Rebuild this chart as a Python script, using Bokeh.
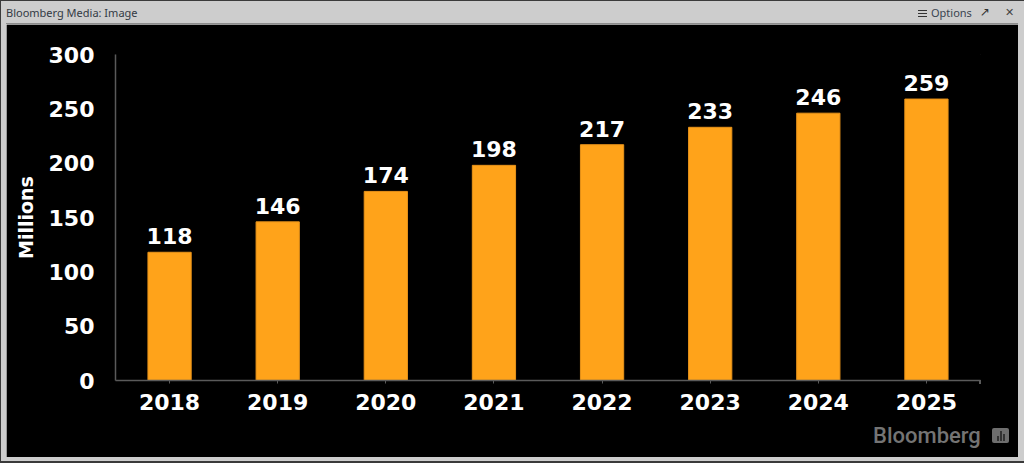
from bokeh.embed import file_html
from bokeh.resources import INLINE
from bokeh.plotting import figure
from bokeh.layouts import column
from bokeh.models import ColumnDataSource, FixedTicker, Range1d, FactorRange, Div
from bokeh.core.properties import value

years = ["2018", "2019", "2020", "2021", "2022", "2023", "2024", "2025"]
users = [118, 146, 174, 198, 217, 233, 246, 259]
y_ticks = [0, 50, 100, 150, 200, 250, 300]
y_title = "Millions"
window_title = "Bloomberg Media: Image"
options_text = "Options"
brand = "Bloomberg"

W, H = 1024, 463
AXIS = "#5a5a5a"
font = "DejaVu Sans"
src = ColumnDataSource(dict(year=years, users=users, label=[str(v) for v in users]))

p = figure(x_range=FactorRange(*years, range_padding=0), y_range=Range1d(0, 300),
           width=1012, height=433, output_backend="svg", toolbar_location=None,
           min_border_left=109, min_border_right=38, min_border_top=30, min_border_bottom=77,
           background_fill_color="#000000", border_fill_color="#000000", outline_line_color="#000000",
           margin=0)
p.outline_line_alpha = 1
p.outline_line_width = 1
p.styles = {"position": "fixed", "left": "6px", "top": "24px"}
p.grid.visible = False

p.vbar(x="year", top="users", width=0.4, source=src, fill_color="#ffa31a", line_color="#e8931a", line_width=1)
p.text(x="year", y="users", text="label", source=src, text_align="center", text_baseline="bottom",
       y_offset=-8, text_color="#ffffff", text_font=value(font), text_font_style="bold",
       text_font_size="22px")

for ax in (p.xaxis[0], p.yaxis[0]):
    ax.axis_line_color = AXIS
    ax.axis_line_width = 1.5
    ax.major_label_text_color = "#ffffff"
    ax.major_label_text_font = font
    ax.major_label_text_font_style = "bold"
    ax.major_label_text_font_size = "22px"
    ax.minor_tick_line_color = None

p.xaxis[0].major_tick_line_color = AXIS
p.xaxis[0].major_tick_in = 0
p.xaxis[0].major_tick_out = 3
p.xaxis[0].major_label_standoff = 10

p.yaxis[0].ticker = FixedTicker(ticks=y_ticks)
p.yaxis[0].major_tick_line_color = None
p.yaxis[0].major_tick_in = 0
p.yaxis[0].major_tick_out = 0
p.yaxis[0].major_label_standoff = 21
p.yaxis[0].axis_label = y_title
p.yaxis[0].axis_label_text_color = "#ffffff"
p.yaxis[0].axis_label_text_font = font
p.yaxis[0].axis_label_text_font_style = "bold"
p.yaxis[0].axis_label_text_font_size = "19px"
p.yaxis[0].axis_label_standoff = 9


def rect(l, t, w, h, color, extra=""):
    return (f'<div style="position:absolute;left:{l}px;top:{t}px;width:{w}px;height:{h}px;'
            f'background:{color};{extra}"></div>')


def label(l, cy, s, color, size, fnt="Noto Sans", extra=""):
    return (f'<div style="position:absolute;left:{l}px;top:{cy - 12}px;height:24px;'
            f'white-space:nowrap;color:{color};font:{size}px \'{fnt}\';line-height:24px;{extra}">{s}</div>')


chrome_html = (
    rect(0, 0, W, H, "#cdcdcd")
    + rect(0, 0, W, 1, "#3a3a3a") + rect(0, 0, 1, H, "#3a3a3a") + rect(0, 461, W, 2, "#3a3a3a")
    + rect(6, 23, 1012, 1, "#8c8c8c")
    + label(6, 13, window_title, "#333a44", 11)
    + rect(918, 10, 9, 1, "#333333") + rect(918, 13, 9, 1, "#333333") + rect(918, 16, 9, 1, "#333333")
    + label(931, 13, options_text, "#3a4450", 11)
    + label(980, 12, "\u2197", "#333333", 12, "DejaVu Sans")
    + label(1005, 13, "\u2715", "#444444", 11, "DejaVu Sans")
)
chrome = Div(text=chrome_html, width=W, height=H, margin=0,
             styles={"position": "fixed", "left": "0px", "top": "0px"})

overlay_html = (
    rect(979, 380, 1.5, 4, AXIS)
    + label(873, 436, brand, "#747474", 22, "Roboto", "font-weight:500;")
    + rect(992, 428, 17, 15, "#6e6e6e", "border-radius:2px;")
    + rect(997, 436, 2, 5, "#333333") + rect(1000, 431, 2, 10, "#333333") + rect(1003, 434, 2, 7, "#333333")
)
overlay = Div(text=overlay_html, width=W, height=H, margin=0,
              styles={"position": "fixed", "left": "0px", "top": "0px", "pointer-events": "none"})

page = column(chrome, p, overlay)
open("out.html", "w").write(file_html(page, INLINE))
